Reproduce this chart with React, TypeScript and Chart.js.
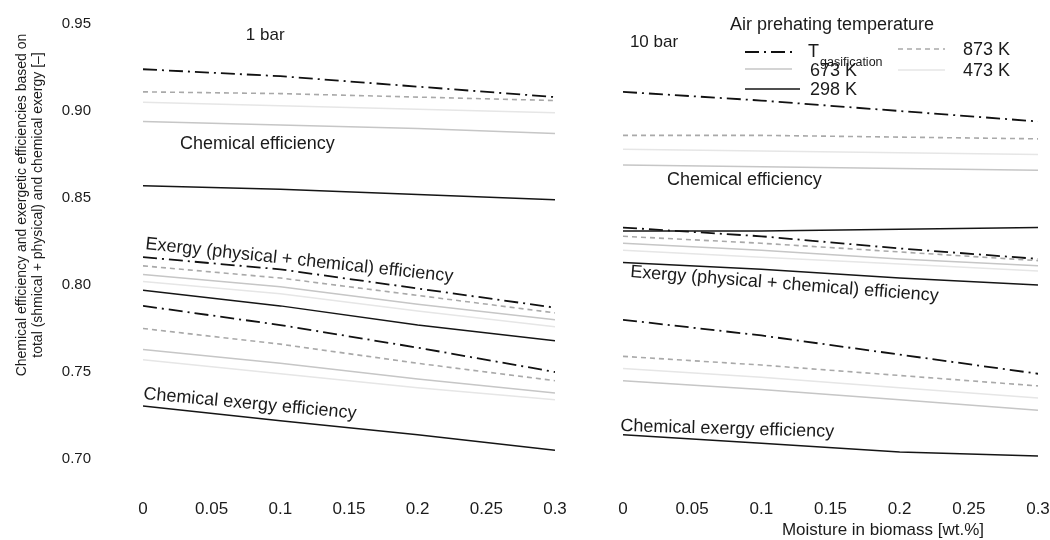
import React, { useEffect, useRef } from 'react';
import { Chart, registerables } from 'chart.js';
Chart.register(...registerables);

const FONT = '"Liberation Sans", Arial, Helvetica, sans-serif';

// ---------- data ----------
const moisture = [0, 0.1, 0.2, 0.3];
const xTickLabels = ['0', '0.05', '0.1', '0.15', '0.2', '0.25', '0.3'];
const yTickLabels = ['0.70', '0.75', '0.80', '0.85', '0.90', '0.95'];
const temperatures = ['Tgas', '873 K', '673 K', '473 K', '298 K'];

// 1 bar : chemical efficiency
const chem1_Tgas = [0.924, 0.920, 0.914, 0.908];
const chem1_873 = [0.911, 0.910, 0.908, 0.906];
const chem1_673 = [0.894, 0.892, 0.890, 0.887];
const chem1_473 = [0.905, 0.903, 0.901, 0.899];
const chem1_298 = [0.857, 0.855, 0.852, 0.849];
// 1 bar : exergy (physical + chemical) efficiency
const exer1_Tgas = [0.816, 0.809, 0.798, 0.787];
const exer1_873 = [0.811, 0.804, 0.794, 0.784];
const exer1_673 = [0.806, 0.799, 0.789, 0.780];
const exer1_473 = [0.802, 0.795, 0.785, 0.776];
const exer1_298 = [0.797, 0.788, 0.777, 0.768];
// 1 bar : chemical exergy efficiency
const cexe1_Tgas = [0.788, 0.777, 0.764, 0.750];
const cexe1_873 = [0.775, 0.766, 0.755, 0.745];
const cexe1_673 = [0.763, 0.755, 0.746, 0.738];
const cexe1_473 = [0.757, 0.749, 0.741, 0.734];
const cexe1_298 = [0.7305, 0.722, 0.714, 0.705];

// 10 bar : chemical efficiency
const chem10_Tgas = [0.911, 0.906, 0.900, 0.894];
const chem10_873 = [0.886, 0.886, 0.885, 0.884];
const chem10_673 = [0.869, 0.868, 0.867, 0.866];
const chem10_473 = [0.878, 0.877, 0.876, 0.875];
const chem10_298 = [0.831, 0.831, 0.832, 0.833];
// 10 bar : exergy (physical + chemical) efficiency
const exer10_Tgas = [0.833, 0.828, 0.821, 0.815];
const exer10_873 = [0.828, 0.824, 0.819, 0.814];
const exer10_673 = [0.824, 0.820, 0.815, 0.811];
const exer10_473 = [0.820, 0.816, 0.812, 0.808];
const exer10_298 = [0.813, 0.809, 0.804, 0.800];
// 10 bar : chemical exergy efficiency
const cexe10_Tgas = [0.780, 0.771, 0.760, 0.749];
const cexe10_873 = [0.759, 0.754, 0.748, 0.742];
const cexe10_673 = [0.745, 0.740, 0.734, 0.728];
const cexe10_473 = [0.752, 0.747, 0.741, 0.735];
const cexe10_298 = [0.714, 0.709, 0.704, 0.7017];

// ---------- styles ----------
const lineStyles: Record<string, { color: string; dash: number[]; width: number }> = {
  'Tgas': { color: '#111111', dash: [14, 5, 2, 5], width: 1.8 },
  '873 K': { color: '#a9a9a9', dash: [5, 4], width: 1.6 },
  '673 K': { color: '#c6c6c6', dash: [], width: 1.5 },
  '473 K': { color: '#e6e6e6', dash: [], width: 1.5 },
  '298 K': { color: '#151515', dash: [], width: 1.5 },
};

function makeDatasets(groups: number[][][]) {
  const out: any[] = [];
  groups.forEach((group) => {
    group.forEach((vals, i) => {
      const st = lineStyles[temperatures[i]];
      out.push({
        label: temperatures[i],
        data: moisture.map((m, k) => ({ x: m, y: vals[k] })),
        borderColor: st.color,
        borderDash: st.dash,
        borderWidth: st.width,
        pointRadius: 0,
        tension: 0,
        fill: false,
        order: temperatures.length - i,
      });
    });
  });
  return out;
}

type Lbl = { text: string; x: number; y: number; angle: number; align: CanvasTextAlign; baseline: CanvasTextBaseline; size: number };

const leftLabels: Lbl[] = [
  { text: '1 bar', x: 0.089, y: 0.9437, angle: 0, align: 'center', baseline: 'middle', size: 17 },
  { text: 'Chemical efficiency', x: 0.027, y: 0.881, angle: 0, align: 'left', baseline: 'middle', size: 18 },
  { text: 'Exergy (physical + chemical) efficiency', x: 0.0015, y: 0.8207, angle: 0.106, align: 'left', baseline: 'alphabetic', size: 18 },
  { text: 'Chemical exergy efficiency', x: 0.0, y: 0.7345, angle: 0.092, align: 'left', baseline: 'alphabetic', size: 18 },
];
const rightLabels: Lbl[] = [
  { text: '10 bar', x: 0.0224, y: 0.9397, angle: 0, align: 'center', baseline: 'middle', size: 17 },
  { text: 'Chemical efficiency', x: 0.0318, y: 0.8603, angle: 0, align: 'left', baseline: 'middle', size: 18 },
  { text: 'Exergy (physical + chemical) efficiency', x: 0.005, y: 0.8046, angle: 0.0785, align: 'left', baseline: 'alphabetic', size: 18 },
  { text: 'Chemical exergy efficiency', x: -0.002, y: 0.7161, angle: 0.028, align: 'left', baseline: 'alphabetic', size: 18 },
];

const yTitleLines = [
  'Chemical efficiency and exergetic efficiencies based on',
  'total (shmical + physical) and chemical exergy [–]',
];
const xTitle = 'Moisture in biomass [wt.%]';
const legendTitle = 'Air prehating temperature';

function labelsPlugin(labels: Lbl[]) {
  return {
    id: 'labels',
    afterDatasetsDraw(chart: any) {
      const { ctx, scales } = chart;
      const xs = scales.x, ys = scales.y;
      ctx.save();
      ctx.fillStyle = '#1b1b1b';
      for (const l of labels) {
        ctx.save();
        ctx.font = `${l.size}px ${FONT}`;
        ctx.translate(xs.getPixelForValue(l.x), ys.getPixelForValue(l.y));
        ctx.rotate(l.angle);
        ctx.textAlign = l.align;
        ctx.textBaseline = l.baseline;
        ctx.fillText(l.text, 0, 0);
        ctx.restore();
      }
      ctx.restore();
    },
  };
}

const yTitlePlugin = {
  id: 'ytitle',
  afterDraw(chart: any) {
    const { ctx } = chart;
    ctx.save();
    ctx.fillStyle = '#1b1b1b';
    ctx.font = `14px ${FONT}`;
    ctx.textAlign = 'center';
    ctx.textBaseline = 'middle';
    const xs = [22, 38];
    yTitleLines.forEach((t, i) => {
      ctx.save();
      ctx.translate(xs[i], 205);
      ctx.rotate(-Math.PI / 2);
      ctx.fillText(t, 0, 0);
      ctx.restore();
    });
    ctx.restore();
  },
};

const OFF = 585; // right canvas left offset
const rightExtrasPlugin = {
  id: 'rightExtras',
  afterDraw(chart: any) {
    const { ctx } = chart;
    ctx.save();
    ctx.fillStyle = '#1b1b1b';
    // x title
    ctx.font = `17px ${FONT}`;
    ctx.textAlign = 'center';
    ctx.textBaseline = 'middle';
    ctx.fillText(xTitle, 883 - OFF, 530);
    // legend title
    ctx.font = `18px ${FONT}`;
    ctx.textAlign = 'left';
    ctx.fillText(legendTitle, 730 - OFF, 25);
    const sample = (key: string, x1: number, x2: number, y: number) => {
      const st = lineStyles[key];
      ctx.save();
      ctx.strokeStyle = st.color;
      ctx.lineWidth = st.width;
      ctx.setLineDash(st.dash);
      ctx.beginPath();
      ctx.moveTo(x1 - OFF, y);
      ctx.lineTo(x2 - OFF, y);
      ctx.stroke();
      ctx.restore();
    };
    sample('Tgas', 745, 795, 52);
    sample('873 K', 898, 945, 49);
    sample('673 K', 745, 792, 69);
    sample('473 K', 898, 945, 70);
    sample('298 K', 745, 800, 89);
    ctx.font = `18px ${FONT}`;
    ctx.fillText('T', 808 - OFF, 52);
    ctx.font = `12.5px ${FONT}`;
    ctx.fillText('gasification', 820 - OFF, 63);
    ctx.font = `18px ${FONT}`;
    ctx.fillText(temperatures[1], 963 - OFF, 50);
    ctx.fillText(temperatures[2], 810 - OFF, 71);
    ctx.fillText(temperatures[3], 963 - OFF, 71);
    ctx.fillText(temperatures[4], 810 - OFF, 90);
    ctx.restore();
  },
};

function baseOptions(showY: boolean, padLeft: number, padRight: number) {
  return {
    responsive: false,
    animation: false,
    events: [],
    layout: { padding: { top: 24, left: padLeft, right: padRight, bottom: 0 } },
    plugins: { legend: { display: false }, tooltip: { enabled: false }, title: { display: false } },
    scales: {
      x: {
        type: 'linear',
        min: 0,
        max: 0.3,
        grid: { display: false, drawTicks: false },
        border: { display: false },
        ticks: {
          stepSize: 0.05,
          padding: 40,
          color: '#1b1b1b',
          font: { size: 17, family: FONT },
          maxRotation: 0,
          autoSkip: false,
          callback: (v: number, i: number) => xTickLabels[i] ?? String(Math.round(v * 100) / 100),
        },
        afterFit: (s: any) => {
          s.height = 81;
          s.paddingLeft = 6;
          s.paddingRight = 12;
        },
      },
      y: {
        type: 'linear',
        display: showY,
        min: 0.7,
        max: 0.95,
        grid: { display: false, drawTicks: false },
        border: { display: false },
        ticks: {
          stepSize: 0.05,
          padding: 52,
          color: '#1b1b1b',
          font: { size: 15, family: FONT },
          callback: (v: number, i: number) => yTickLabels[i] ?? Number(v).toFixed(2),
        },
        afterFit: (s: any) => {
          s.width = showY ? 143 - padLeft : 0;
          s.paddingTop = 8;
          s.paddingBottom = 8;
        },
      },
    },
  };
}

export default function App() {
  const leftRef = useRef<HTMLCanvasElement>(null);
  const rightRef = useRef<HTMLCanvasElement>(null);

  useEffect(() => {
    Chart.defaults.font.family = FONT;
    const left = new Chart(leftRef.current as HTMLCanvasElement, {
      type: 'line',
      data: {
        datasets: makeDatasets([
          [chem1_Tgas, chem1_873, chem1_673, chem1_473, chem1_298],
          [exer1_Tgas, exer1_873, exer1_673, exer1_473, exer1_298],
          [cexe1_Tgas, cexe1_873, cexe1_673, cexe1_473, cexe1_298],
        ]),
      },
      options: baseOptions(true, 0, 30) as any,
      plugins: [labelsPlugin(leftLabels), yTitlePlugin],
    });
    const right = new Chart(rightRef.current as HTMLCanvasElement, {
      type: 'line',
      data: {
        datasets: makeDatasets([
          [chem10_Tgas, chem10_873, chem10_673, chem10_473, chem10_298],
          [exer10_Tgas, exer10_873, exer10_673, exer10_473, exer10_298],
          [cexe10_Tgas, cexe10_873, cexe10_673, cexe10_473, cexe10_298],
        ]),
      },
      options: baseOptions(false, 38, 12) as any,
      plugins: [labelsPlugin(rightLabels), rightExtrasPlugin],
    });
    return () => {
      left.destroy();
      right.destroy();
    };
  }, []);

  return (
    <div style={{ position: 'fixed', left: 0, top: 0, width: 1050, height: 540, background: '#fff', overflow: 'hidden' }}>
      <canvas ref={leftRef} width={585} height={540} style={{ position: 'absolute', left: 0, top: 0 }} />
      <canvas ref={rightRef} width={465} height={540} style={{ position: 'absolute', left: OFF, top: 0 }} />
    </div>
  );
}
